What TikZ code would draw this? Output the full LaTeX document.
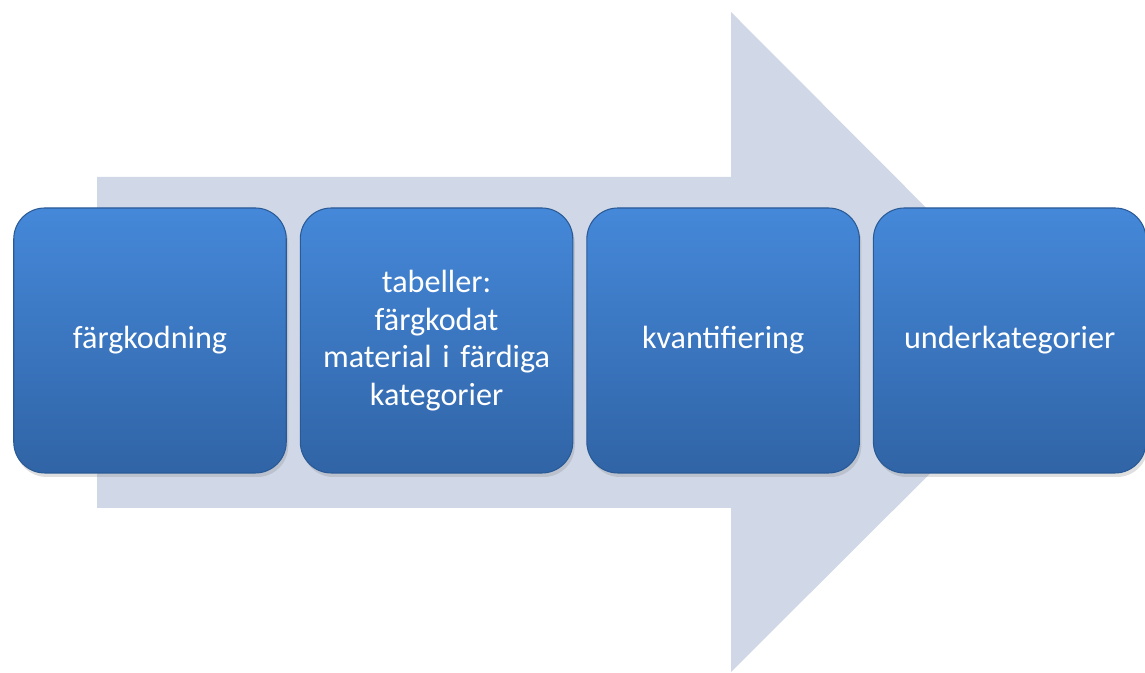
\documentclass[tikz,border=0pt]{standalone}
\usepackage{fontspec}
\setmainfont{Carlito}
\usepackage{tikz}
\usetikzlibrary{positioning,shadows}
\definecolor{arrowbg}{HTML}{D0D8E7}
\definecolor{boxtop}{HTML}{4588D9}
\definecolor{boxbot}{HTML}{3064A6}
\definecolor{boxline}{HTML}{2A5A96}
\tikzset{
  stepbox/.style ={draw=boxline, line width=0.6pt, rectangle, rounded corners=0.62cm, align=center,
                   top color=boxtop, bottom color=boxbot, text=white, minimum width=5.45cm,
                   minimum height=5.3cm, text width=5.3cm, inner sep=0pt,
                   font=\fontsize{18.3}{21.5}\selectfont,
                   drop shadow={opacity=0.25, shadow xshift=0.4mm, shadow yshift=-0.8mm}},
  bigarrow/.style={fill=arrowbg, draw=none},
}

\begin{document}
\begin{tikzpicture}
  \useasboundingbox (0,0) rectangle (22.9,13.46);
  % background arrow
  \fill[bigarrow] (1.94,9.92) -- (14.62,9.92) -- (14.62,13.22) -- (21.22,6.6)
       -- (14.62,0.02) -- (14.62,3.3) -- (1.94,3.3) -- cycle;
  % process steps
  \node[stepbox] (fargk) at (3.0,6.65)  {färgkodning};
  \node[stepbox, right=0.26cm of fargk] (tab)   {tabeller:\\färgkodat\\material i färdiga\\kategorier};
  \node[stepbox, right=0.26cm of tab]   (kvant) {kvantifiering};
  \node[stepbox, right=0.26cm of kvant] (under) {underkategorier};
\end{tikzpicture}
\end{document}
